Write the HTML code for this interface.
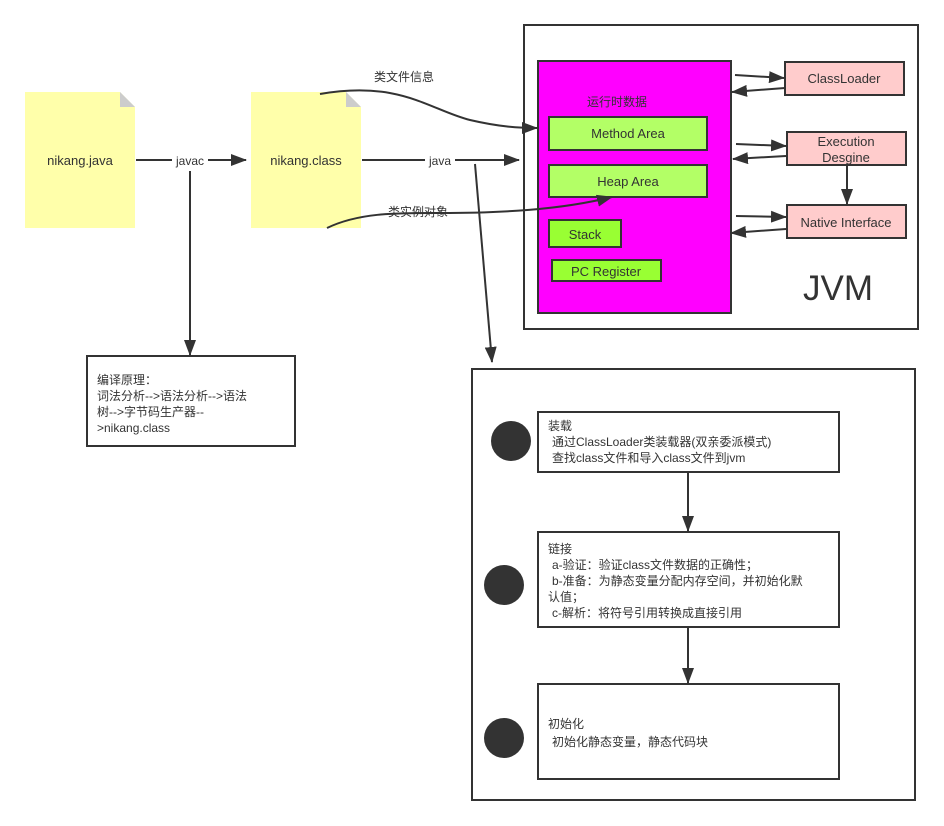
<!DOCTYPE html>
<html><head><meta charset="utf-8"><style>
html,body{margin:0;padding:0;background:#fff;}
svg{display:block;}
text{font-family:"Liberation Sans","Noto Sans CJK SC",sans-serif;fill:#333;}
</style></head><body>
<svg width="944" height="826" viewBox="0 0 944 826" xmlns="http://www.w3.org/2000/svg" font-size="12">
<defs>
<marker id="a" markerWidth="16" markerHeight="12" refX="15" refY="6" orient="auto" markerUnits="userSpaceOnUse">
<path d="M0,0 L16,6 L0,12 Z" fill="#333"/></marker>
</defs>
<g stroke="#333" stroke-width="2" fill="none">
<path d="M25,92 H120 L135,107 V228 H25 Z" fill="#ffffaa" stroke="none"/>
<path d="M120,92 L135,107 H120 Z" fill="#ccc" stroke="none"/>
<path d="M251,92 H346 L361,107 V228 H251 Z" fill="#ffffaa" stroke="none"/>
<path d="M346,92 L361,107 H346 Z" fill="#ccc" stroke="none"/>
<rect x="87" y="356" width="208" height="90" fill="#fff"/>
<rect x="524" y="25" width="394" height="304" fill="#fff"/>
<rect x="538" y="61" width="193" height="252" fill="#ff00ff"/>
<rect x="549" y="117" width="158" height="33" fill="#b3ff66"/>
<rect x="549" y="165" width="158" height="32" fill="#b3ff66"/>
<rect x="549" y="220" width="72" height="27" fill="#99ff33"/>
<rect x="552" y="260" width="109" height="21" fill="#99ff33"/>
<rect x="785" y="62" width="119" height="33" fill="#ffcccc"/>
<rect x="787" y="132" width="119" height="33" fill="#ffcccc"/>
<rect x="787" y="205" width="119" height="33" fill="#ffcccc"/>
<rect x="472" y="369" width="443" height="431" fill="#fff"/>
<rect x="538" y="412" width="301" height="60" fill="#fff"/>
<rect x="538" y="532" width="301" height="95" fill="#fff"/>
<rect x="538" y="684" width="301" height="95" fill="#fff"/>
<line x1="136" y1="160" x2="172" y2="160"/>
<line x1="208" y1="160" x2="246" y2="160" marker-end="url(#a)"/>
<line x1="190" y1="171" x2="190" y2="355" marker-end="url(#a)"/>
<line x1="362" y1="160" x2="425" y2="160"/>
<line x1="455" y1="160" x2="519" y2="160" marker-end="url(#a)"/>
<line x1="475" y1="164" x2="492" y2="362" marker-end="url(#a)"/>
<path d="M320,94 C400,80 430,110 470,120 C500,127 520,128 537,128" marker-end="url(#a)"/>
<path d="M327,228 C360,212 400,213 440,213 C500,213 560,210 612,197" marker-end="url(#a)"/>
<line x1="735" y1="75" x2="784" y2="78" marker-end="url(#a)"/>
<line x1="785" y1="88" x2="732" y2="92" marker-end="url(#a)"/>
<line x1="736" y1="144" x2="786" y2="146" marker-end="url(#a)"/>
<line x1="786" y1="156" x2="733" y2="159" marker-end="url(#a)"/>
<line x1="736" y1="216" x2="786" y2="217" marker-end="url(#a)"/>
<line x1="786" y1="229" x2="731" y2="233" marker-end="url(#a)"/>
<line x1="847" y1="165" x2="847" y2="204" marker-end="url(#a)"/>
<line x1="688" y1="472" x2="688" y2="531" marker-end="url(#a)"/>
<line x1="688" y1="627" x2="688" y2="683" marker-end="url(#a)"/>
</g>
<circle cx="511" cy="441" r="20" fill="#333"/>
<circle cx="504" cy="585" r="20" fill="#333"/>
<circle cx="504" cy="738" r="20" fill="#333"/>
<text x="80" y="165" text-anchor="middle" font-size="13">nikang.java</text>
<text x="306" y="165" text-anchor="middle" font-size="13">nikang.class</text>
<text x="190" y="165" text-anchor="middle">javac</text>
<text x="440" y="165" text-anchor="middle">java</text>
<text x="404" y="81" text-anchor="middle">类文件信息</text>
<text x="418" y="216" text-anchor="middle">类实例对象</text>
<text x="97" y="384">编译原理：</text>
<text x="97" y="400">词法分析--&gt;语法分析--&gt;语法</text>
<text x="97" y="416">树--&gt;字节码生产器--</text>
<text x="97" y="432">&gt;nikang.class</text>
<text x="617" y="106" text-anchor="middle">运行时数据</text>
<text x="628" y="138" text-anchor="middle" font-size="13">Method Area</text>
<text x="628" y="186" text-anchor="middle" font-size="13">Heap Area</text>
<text x="585" y="239" text-anchor="middle" font-size="13">Stack</text>
<text x="606" y="276" text-anchor="middle" font-size="13">PC Register</text>
<text x="844" y="83" text-anchor="middle" font-size="13">ClassLoader</text>
<text x="846" y="146" text-anchor="middle" font-size="13">Execution</text>
<text x="846" y="162" text-anchor="middle" font-size="13">Desgine</text>
<text x="846" y="227" text-anchor="middle" font-size="13">Native Interface</text>
<text x="838" y="300" text-anchor="middle" font-size="35">JVM</text>
<text x="548" y="430">装载</text>
<text x="552" y="446">通过ClassLoader类装载器(双亲委派模式)</text>
<text x="552" y="462">查找class文件和导入class文件到jvm</text>
<text x="548" y="553">链接</text>
<text x="552" y="569">a-验证：验证class文件数据的正确性；</text>
<text x="552" y="585">b-准备：为静态变量分配内存空间，并初始化默</text>
<text x="548" y="601">认值；</text>
<text x="552" y="617">c-解析：将符号引用转换成直接引用</text>
<text x="548" y="728">初始化</text>
<text x="552" y="746">初始化静态变量，静态代码块</text>
</svg>
</body></html>
